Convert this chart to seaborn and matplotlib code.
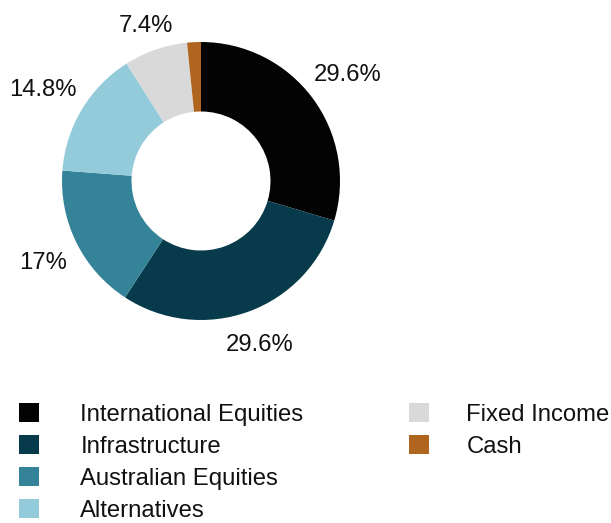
import matplotlib
matplotlib.use("Agg")
import numpy as np
import matplotlib.pyplot as plt
from matplotlib.patches import Patch
import seaborn as sns

categories = ["International Equities", "Infrastructure", "Australian Equities",
              "Alternatives", "Fixed Income", "Cash"]
values = [29.6, 29.6, 17.0, 14.8, 7.4, 1.6]
colors = ["#030303", "#073a4a", "#358398", "#94cbdb", "#d9d9d9", "#b0651e"]

sns.set_theme(style="white")
plt.rcParams["font.family"] = ["Liberation Sans", "DejaVu Sans"]

fig = plt.figure(figsize=(6.11, 5.23), dpi=100)
R_PX = 139.0
ax = fig.add_axes([62 / 611, 1 - 320 / 523, 278 / 611, 278 / 523])

def fmt(p):
    return f"{p:.3g}%" if p >= 2 else ""

wedges, texts, autotexts = ax.pie(
    values, colors=colors, startangle=90, counterclock=False,
    autopct=fmt, pctdistance=1.27, radius=1.0,
    wedgeprops=dict(width=0.5, linewidth=0),
    textprops=dict(fontsize=17.2, color="#111111"),
)
ax.set_xlim(-1, 1)
ax.set_ylim(-1, 1)
ax.set_aspect("equal")
ax.axis("off")

# place labels so that their box sits a fixed gap outside the ring
fig.canvas.draw()
renderer = fig.canvas.get_renderer()
gap_px = 12.0
for w, t in zip(wedges, autotexts):
    if not t.get_text():
        continue
    t.set_va("center_baseline")
    bb = t.get_window_extent(renderer)
    hw = bb.width / 2
    hh = 0.36 * 17.2 * 100 / 72
    th = np.deg2rad((w.theta1 + w.theta2) / 2)
    c, s = np.cos(th), np.sin(th)
    d = (R_PX + gap_px + abs(c) * hw + abs(s) * hh) / R_PX
    t.set_position((d * c, d * s - 1.5 / R_PX))

handles = [Patch(facecolor=c, edgecolor="none") for c in colors]
common = dict(frameon=False, fontsize=17.2, handlelength=0.85, handleheight=0.85,
              labelspacing=0.39, borderpad=0, borderaxespad=0,
              loc="upper left", labelcolor="#111111")
fig.legend(handles[:4], categories[:4], bbox_to_anchor=(19 / 611, 1 - 403 / 523),
           handletextpad=1.72, **common)
fig.legend(handles[4:], categories[4:], bbox_to_anchor=(409 / 611, 1 - 403 / 523),
           handletextpad=1.55, **common)

fig.savefig("out.png", dpi=100)
